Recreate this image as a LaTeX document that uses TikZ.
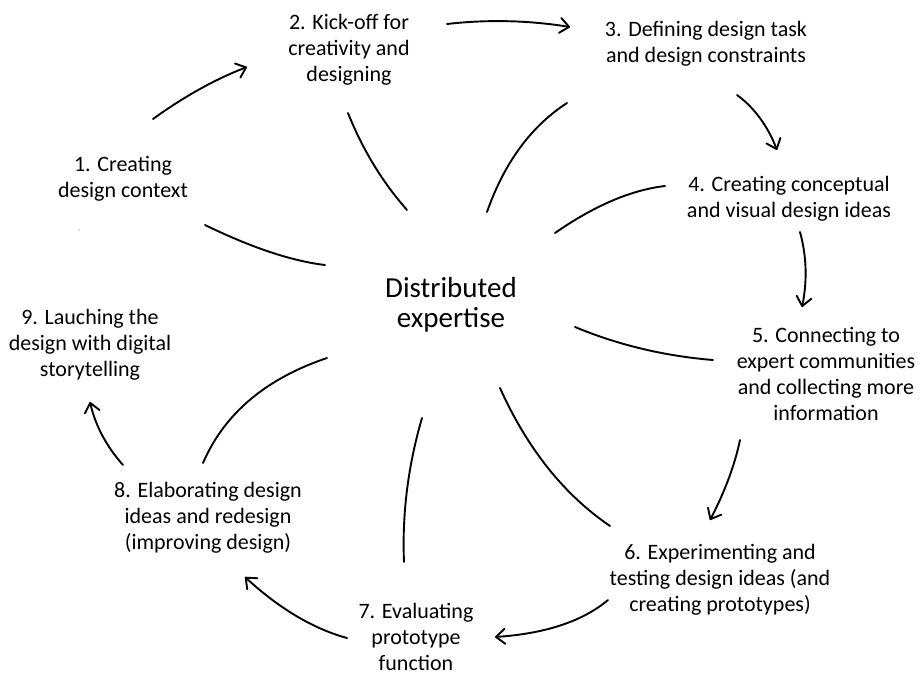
\documentclass[tikz,border=0pt]{standalone}
\usepackage{fontspec}
\setmainfont{Carlito}
\usetikzlibrary{arrows.meta,calc}
\begin{document}
\begin{tikzpicture}[x=1pt,y=-1pt,
  lbl/.style={align=center,font=\fontsize{22}{26}\selectfont,inner sep=0pt},
  hub/.style={align=center,font=\fontsize{29}{30}\selectfont,inner sep=0pt},
  flow/.style={line width=1.9pt,line cap=round,line join=round,-{Straight Barb[length=9pt,width=15pt,line cap=round,line join=round]}},
  spoke/.style={line width=1.9pt,line cap=round}]
\fill[white] (0,0) rectangle (924,675);
\useasboundingbox (0,0) rectangle (924,675);
% labels
\node[hub] (hub) at (451,305) {Distributed\\expertise};
\node[lbl] (n1) at (123,179) {1. Creating\\design context};
\node[lbl] (n2) at (349,50) {2. Kick-off for\\creativity and\\designing};
\node[lbl] (n3) at (706,44) {3. Defining design task\\and design constraints};
\node[lbl] (n4) at (789,199) {4. Creating conceptual\\and visual design ideas};
\node[lbl] (n5) at (826,374) {5. Connecting to\\expert communities\\and collecting more\\information};
\node[lbl] (n6) at (720,580) {6. Experimenting and\\testing design ideas (and\\creating prototypes)};
\node[lbl] (n7) at (416,637) {7. Evaluating\\prototype\\function};
\node[lbl] (n8) at (208,518) {8. Elaborating design\\ideas and redesign\\(improving design)};
\node[lbl] (n9) at (90,345) {9. Lauching the\\design with digital\\storytelling};
% arrow end points and bend points
\coordinate (a12s) at (153,119); \coordinate (a12c) at (200,85);  \coordinate (a12e) at (247,67);
\coordinate (a23s) at (447,24);  \coordinate (a23c) at (508,17);  \coordinate (a23e) at (570,27);
\coordinate (a34s) at (737,95);  \coordinate (a34c) at (763,114); \coordinate (a34e) at (777,150);
\coordinate (a45s) at (800,232); \coordinate (a45c) at (810,268); \coordinate (a45e) at (802,307);
\coordinate (a56s) at (740,440); \coordinate (a56c) at (732,478); \coordinate (a56e) at (710,520);
\coordinate (a67s) at (608,600); \coordinate (a67c) at (570,632); \coordinate (a67e) at (495,637);
\coordinate (a78s) at (347,638); \coordinate (a78c) at (296,624); \coordinate (a78e) at (245,577);
\coordinate (a89s) at (123,465); \coordinate (a89c) at (98,437);  \coordinate (a89e) at (90,402);
% cycle arrows
\draw[flow] (a12s) .. controls ($(a12s)!0.667!(a12c)$) and ($(a12e)!0.667!(a12c)$) .. (a12e);
\draw[flow] (a23s) .. controls ($(a23s)!0.667!(a23c)$) and ($(a23e)!0.667!(a23c)$) .. (a23e);
\draw[flow] (a34s) .. controls ($(a34s)!0.667!(a34c)$) and ($(a34e)!0.667!(a34c)$) .. (a34e);
\draw[flow] (a45s) .. controls ($(a45s)!0.667!(a45c)$) and ($(a45e)!0.667!(a45c)$) .. (a45e);
\draw[flow] (a56s) .. controls ($(a56s)!0.667!(a56c)$) and ($(a56e)!0.667!(a56c)$) .. (a56e);
\draw[flow] (a67s) .. controls ($(a67s)!0.667!(a67c)$) and ($(a67e)!0.667!(a67c)$) .. (a67e);
\draw[flow] (a78s) .. controls ($(a78s)!0.667!(a78c)$) and ($(a78e)!0.667!(a78c)$) .. (a78e);
\draw[flow] (a89s) .. controls ($(a89s)!0.667!(a89c)$) and ($(a89e)!0.667!(a89c)$) .. (a89e);
% spoke end points and bend points
\coordinate (s1a) at (205,225); \coordinate (s1c) at (275,259); \coordinate (s1b) at (325,265);
\coordinate (s2a) at (348,113); \coordinate (s2c) at (370,168); \coordinate (s2b) at (407,210);
\coordinate (s3a) at (567,103); \coordinate (s3c) at (513,138); \coordinate (s3b) at (487,212);
\coordinate (s4a) at (665,186); \coordinate (s4c) at (614,192); \coordinate (s4b) at (555,233);
\coordinate (s5a) at (575,327); \coordinate (s5c) at (640,354); \coordinate (s5b) at (713,360);
\coordinate (s6a) at (500,388); \coordinate (s6c) at (541,479); \coordinate (s6b) at (610,526);
\coordinate (s7a) at (422,418); \coordinate (s7c) at (401,490); \coordinate (s7b) at (404,562);
\coordinate (s8a) at (327,358); \coordinate (s8c) at (235,389); \coordinate (s8b) at (203,463);
% spokes
\draw[spoke] (s1a) .. controls ($(s1a)!0.667!(s1c)$) and ($(s1b)!0.667!(s1c)$) .. (s1b);
\draw[spoke] (s2a) .. controls ($(s2a)!0.667!(s2c)$) and ($(s2b)!0.667!(s2c)$) .. (s2b);
\draw[spoke] (s3a) .. controls ($(s3a)!0.667!(s3c)$) and ($(s3b)!0.667!(s3c)$) .. (s3b);
\draw[spoke] (s4a) .. controls ($(s4a)!0.667!(s4c)$) and ($(s4b)!0.667!(s4c)$) .. (s4b);
\draw[spoke] (s5a) .. controls ($(s5a)!0.667!(s5c)$) and ($(s5b)!0.667!(s5c)$) .. (s5b);
\draw[spoke] (s6a) .. controls ($(s6a)!0.667!(s6c)$) and ($(s6b)!0.667!(s6c)$) .. (s6b);
\draw[spoke] (s7a) .. controls ($(s7a)!0.667!(s7c)$) and ($(s7b)!0.667!(s7c)$) .. (s7b);
\draw[spoke] (s8a) .. controls ($(s8a)!0.667!(s8c)$) and ($(s8b)!0.667!(s8c)$) .. (s8b);
% small speck
\fill[black!60] (79,230) circle (0.7);
\end{tikzpicture}
\end{document}
